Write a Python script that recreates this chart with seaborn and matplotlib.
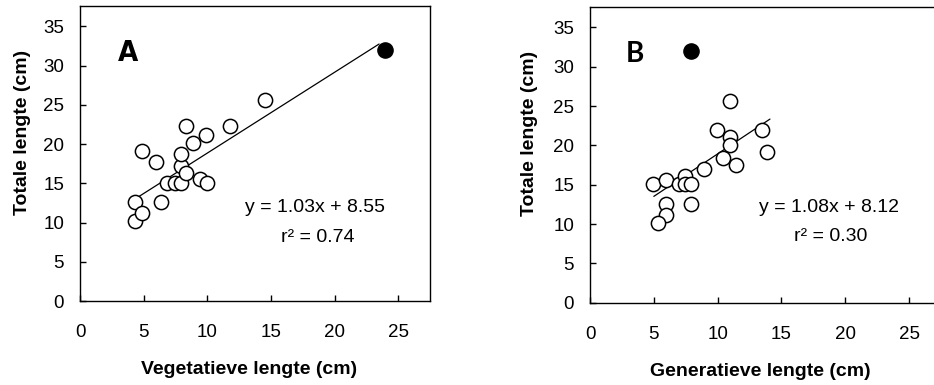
import matplotlib
matplotlib.use("Agg")
import matplotlib.pyplot as plt
import seaborn as sns
import pandas as pd

# ---------------- data ----------------
veg_open = [4.3, 4.3, 4.9, 4.9, 6.0, 6.4, 6.85, 7.45, 7.9, 7.9, 7.9, 8.35, 8.3, 8.9, 9.4, 9.95, 9.9, 11.8, 14.5]
totA_open = [12.6, 10.2, 11.2, 19.1, 17.7, 12.6, 15.0, 15.0, 15.0, 17.2, 18.7, 16.3, 22.3, 20.1, 15.5, 15.0, 21.1, 22.3, 25.6]
veg_filled = [24.0]
totA_filled = [32.0]

gen_open = [4.95, 5.95, 5.95, 5.95, 5.35, 6.95, 7.45, 7.45, 7.95, 7.9, 8.9, 9.95, 10.4, 11.0, 11.0, 11.0, 11.45, 13.5, 13.9]
totB_open = [15.1, 15.6, 12.5, 11.1, 10.1, 15.1, 16.1, 15.1, 15.1, 12.5, 17.0, 22.0, 18.4, 25.6, 21.1, 20.1, 17.5, 22.0, 19.2]
gen_filled = [7.95]
totB_filled = [32.0]

slopeA, interceptA, r2A = 1.03, 8.55, 0.74
slopeB, interceptB, r2B = 1.08, 8.12, 0.30
lineA_x = [4.4, 23.5]
lineB_x = [5.0, 14.1]

xticks = [0, 5, 10, 15, 20, 25]
yticks = [0, 5, 10, 15, 20, 25, 30, 35]

# ---------------- style ----------------
sns.set_style("white")
plt.rcParams['font.family'] = ['Liberation Sans', 'DejaVu Sans']
plt.rcParams['text.color'] = 'black'
plt.rcParams['axes.labelcolor'] = 'black'
plt.rcParams['xtick.color'] = 'black'
plt.rcParams['ytick.color'] = 'black'
plt.rcParams['axes.linewidth'] = 1.0

W, H = 934, 385
fig = plt.figure(figsize=(W / 100, H / 100), dpi=100)

def px_axes(left, right, top, bottom):
    return fig.add_axes([left / W, (H - bottom) / H, (right - left) / W, (bottom - top) / H])

axA = px_axes(80, 430, 6, 301)
axB = px_axes(590, 941, 7, 302.7)

panels = [
    dict(ax=axA, xo=veg_open, yo=totA_open, xf=veg_filled, yf=totA_filled, m=slopeA, b=interceptA,
         r2=r2A, lx=lineA_x, xlabel="Vegetatieve lengte (cm)", letter="A",
         lkw=dict(family=['DejaVu Sans'], fontstretch='condensed', fontsize=21),
         letter_xy=(3.77, 31.6), eq_xy=(18.5, 11.37), r_xy=(18.65, 7.46), ylab_x=-0.165),
    dict(ax=axB, xo=gen_open, yo=totB_open, xf=gen_filled, yf=totB_filled, m=slopeB, b=interceptB,
         r2=r2B, lx=lineB_x, xlabel="Generatieve lengte (cm)", letter="B",
         lkw=dict(family=['Lato', 'DejaVu Sans'], fontsize=20),
         letter_xy=(3.48, 31.65), eq_xy=(18.7, 11.53), r_xy=(18.86, 7.86), ylab_x=-0.172),
]

for p in panels:
    ax = p["ax"]
    ax.set_facecolor("white")
    ldf = pd.DataFrame({"x": p["lx"], "y": [p["m"] * v + p["b"] for v in p["lx"]]})
    sns.lineplot(data=ldf, x="x", y="y", ax=ax, color="black", linewidth=0.9, zorder=2)
    sns.scatterplot(x=p["xo"], y=p["yo"], ax=ax, s=105, facecolor="white", edgecolor="black",
                    linewidth=1.1, zorder=3)
    sns.scatterplot(x=p["xf"], y=p["yf"], ax=ax, s=120, color="black", edgecolor="black",
                    linewidth=1.0, zorder=3)
    ax.set_xlim(0, 27.5)
    ax.set_ylim(0, 37.6)
    ax.set_xticks(xticks)
    ax.set_yticks(yticks)
    ax.tick_params(axis="both", direction="in", length=4, width=1.0, labelsize=13.5,
                   colors="black", bottom=True, left=True, top=False, right=False)
    ax.tick_params(axis="x", pad=16.5)
    ax.tick_params(axis="y", pad=11.5)
    for s in ax.spines.values():
        s.set_visible(True)
        s.set_color("black")
        s.set_linewidth(1.0)
    ax.set_xlabel(p["xlabel"], fontsize=14, fontweight="bold")
    ax.set_ylabel("Totale lengte (cm)", fontsize=14, fontweight="bold")
    ax.xaxis.label.set_va("center")
    ax.yaxis.label.set_va("center")
    ax.xaxis.set_label_coords(0.484, -0.232)
    ax.yaxis.set_label_coords(p["ylab_x"], 0.571)
    ax.text(*p["letter_xy"], p["letter"], fontweight="bold", ha="center", va="center", **p["lkw"])
    ax.text(*p["eq_xy"], f"y = {p['m']:.2f}x + {p['b']:.2f}", fontsize=14,
            ha="center", va="baseline")
    ax.text(*p["r_xy"], f"r\u00b2 = {p['r2']:.2f}", fontsize=14, ha="center", va="baseline")

fig.savefig("out.png", dpi=100, facecolor="white")
